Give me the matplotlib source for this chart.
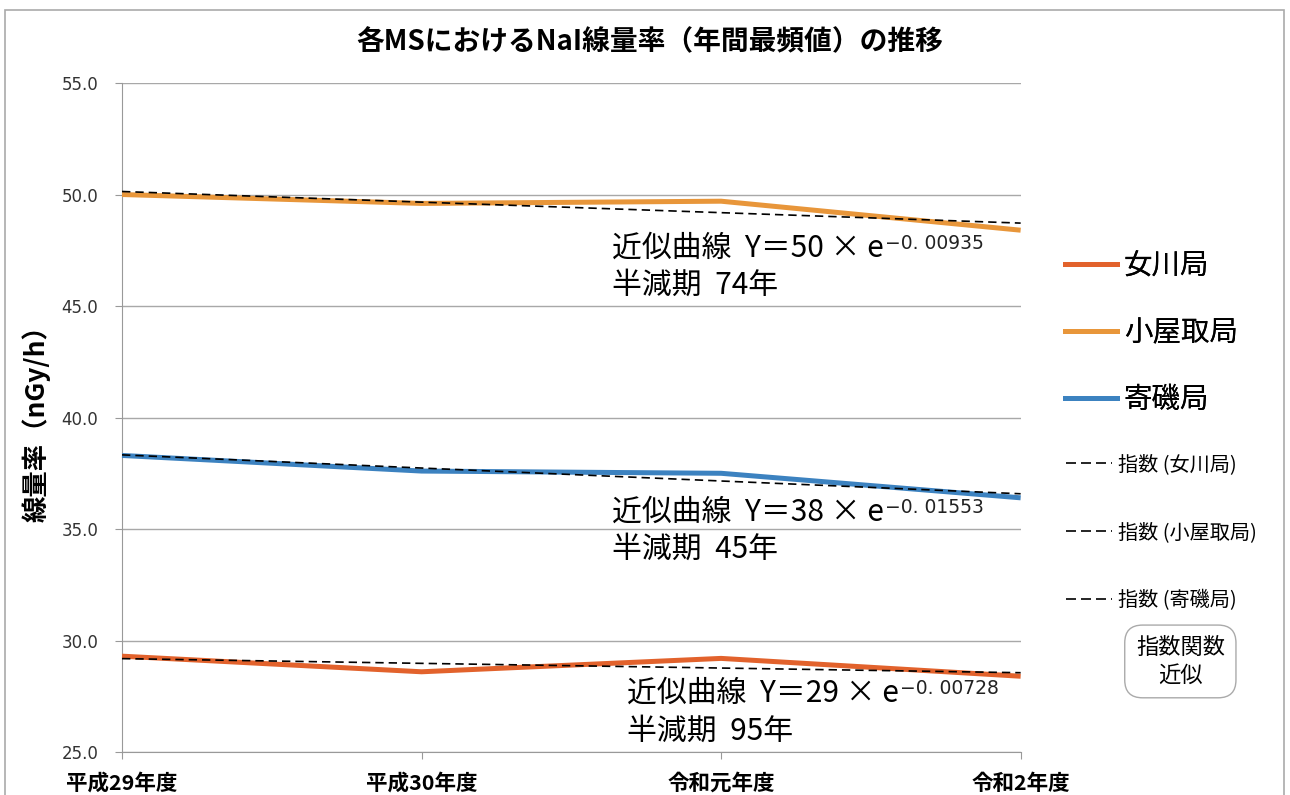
import numpy as np
import matplotlib
matplotlib.use("Agg")
import matplotlib.pyplot as plt
from matplotlib.lines import Line2D
from matplotlib.patches import Rectangle

plt.rcParams['font.family'] = ['Noto Sans CJK JP', 'DejaVu Sans']

# Data
years = ["平成29年度", "平成30年度", "令和元年度", "令和2年度"]
onagawa = [29.3, 28.6, 29.2, 28.4]
koyatori = [50.0, 49.6, 49.7, 48.4]
yoriiso = [38.3, 37.6, 37.5, 36.4]

station_names = ["女川局", "小屋取局", "寄磯局"]
# fitted curve notes (小屋取, 寄磯, 女川 from top to bottom)
fit_coefs = ["50", "38", "29"]
fit_rates = ["0. 00935", "0. 01553", "0. 00728"]
half_lives = ["74", "45", "95"]

colors = ["#E2622C", "#E8963A", "#3C82C0"]


def exp_fit(values):
    # exponential trend line like the spreadsheet "指数" trendline
    x = np.arange(len(values))
    b, a = np.polyfit(x, np.log(values), 1)
    return np.exp(a + b * x)


fig = plt.figure(figsize=(12.9, 7.95), dpi=100)
ax = fig.add_axes([0.0946, 0.054, 0.6966, 0.8416])

x = np.arange(len(years))
series = [onagawa, koyatori, yoriiso]
for vals, c in zip(series, colors):
    ax.plot(x, vals, color=c, lw=3.6, solid_capstyle="butt", clip_on=False, zorder=3)
for vals in series:
    ax.plot(x, exp_fit(vals), color="black", lw=1.2, dashes=(5, 3), clip_on=False, zorder=4)

ax.set_xlim(0, 3)
ax.set_ylim(25, 55)
ax.set_yticks(np.arange(25, 56, 5))
ax.set_yticklabels([f"{v:.1f}" for v in np.arange(25, 56, 5)], fontsize=12, color="#333333",
                   family="DejaVu Sans")
ax.set_xticks(x)
ax.set_xticklabels(years, fontsize=15.5, fontweight="bold")
ax.tick_params(axis="x", length=5, color="#999999", pad=10)
ax.tick_params(axis="y", length=5, color="#999999", pad=12)
ax.grid(axis="y", color="#a8a8a8", lw=1)
ax.set_axisbelow(True)
for s in ["top", "right"]:
    ax.spines[s].set_visible(False)
for s in ["left", "bottom"]:
    ax.spines[s].set_color("#999999")

ax.set_ylabel("線量率（nGy/h）", fontsize=19, fontweight="bold", labelpad=8)

fig.text(0.504, 0.947, "各MSにおけるNaI線量率（年間最頻値）の推移", ha="center", va="center",
         fontsize=20, fontweight="bold")

# annotations of fitted curves
ann_pos = [(1.635, 47.6, 45.95), (1.635, 35.75, 34.1), (1.685, 27.65, 25.95)]
for (ax_x, y1, y2), coef, rate, hl in zip(ann_pos, fit_coefs, fit_rates, half_lives):
    t = ax.text(ax_x, y1, f"近似曲線  Y＝{coef} × e", fontsize=21.5,
                va="center", ha="left", zorder=5)
    ax.annotate("−" + rate, xy=(1, 1), xycoords=t, xytext=(1, -1),
                textcoords="offset points", fontsize=13.5, va="top", ha="left",
                family="DejaVu Sans", color="#222222")
    ax.text(ax_x, y2, f"半減期  {hl}年", fontsize=21.5, va="center", ha="left")

# legend: stations (large) and trend lines (small)
h1 = [Line2D([], [], color=c, lw=3.6) for c in colors]
leg1 = fig.legend(h1, station_names, loc="upper left", bbox_to_anchor=(0.806, 0.716),
                  frameon=False, handlelength=1.8, handletextpad=0.25, labelspacing=1.3,
                  fontsize=20.5)
h2 = [Line2D([], [], color="black", lw=1.2, dashes=(6, 3)) for _ in range(3)]
fig.legend(h2, [f"指数 ({n})" for n in station_names], loc="upper left",
           bbox_to_anchor=(0.812, 0.452), frameon=False, handlelength=2.3,
           handletextpad=0.3, labelspacing=2.33, fontsize=14.5)
fig.add_artist(leg1)

fig.text(0.915, 0.168, "指数関数\n近似", ha="center", va="center", fontsize=16,
         linespacing=1.25,
         bbox=dict(boxstyle="round,pad=0.5,rounding_size=0.8", fc="white", ec="#aaaaaa", lw=1))

# outer border
fig.patches.append(Rectangle((0.004, -0.02), 0.991, 1.007, transform=fig.transFigure,
                             fill=False, ec="#aaaaaa", lw=1.2))

fig.savefig("out.png", dpi=100)
